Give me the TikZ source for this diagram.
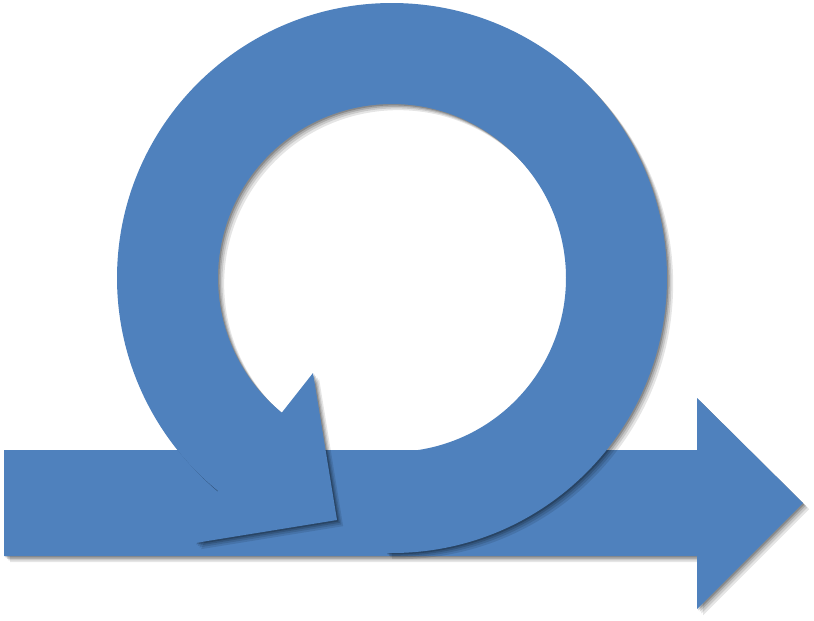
\documentclass[tikz,border=0pt]{standalone}
\usepackage{tikz}
\usetikzlibrary{shadows}

\definecolor{arrowblue}{HTML}{4F81BD}
\tikzset{bluearrow/.style={fill=arrowblue, draw=none,
    drop shadow={opacity=0.10, fill=black, shadow xshift=3.5pt, shadow yshift=-3.5pt},
    drop shadow={opacity=0.12, fill=black, shadow xshift=2.5pt, shadow yshift=-2.5pt},
    drop shadow={opacity=0.15, fill=black, shadow xshift=1.6pt, shadow yshift=-1.6pt},
    drop shadow={opacity=0.20, fill=black, shadow xshift=0.8pt, shadow yshift=-0.8pt}}}

\begin{document}
\begin{tikzpicture}[x=0.02cm, y=0.02cm]
    \useasboundingbox (0,0) rectangle (814,620);
    % straight arrow
    \fill[bluearrow] (4,170) -- (697,170) -- (697,222) -- (803,117) -- (697,11) -- (697,64) -- (4,64) -- cycle;
    % loop arrow
    \coordinate (centre) at (392,342);
    \fill[bluearrow] ([shift={(-91.25:275)}]centre) arc[start angle=-91.25, end angle=230.7, radius=275]
        -- (195,77) -- (337,100) -- (313,247)
        -- ([shift={(230.7:174)}]centre) arc[start angle=230.7, end angle=-92, radius=174] -- cycle;
  \end{tikzpicture}
\end{document}
